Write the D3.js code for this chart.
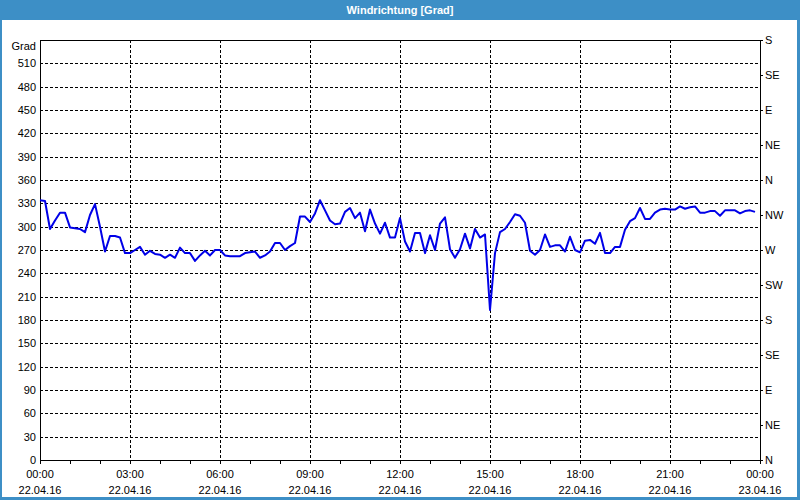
<!DOCTYPE html>
<html><head><meta charset="utf-8">
<script src="https://cdn.jsdelivr.net/npm/d3@7"></script>
<style>
html,body{margin:0;padding:0;background:#fff;}
svg{display:block;}
text{font-family:"Liberation Sans",Arial,sans-serif;font-size:11px;fill:#000;}
</style></head>
<body>
<svg id="chart" width="800" height="500"></svg>
<script>
const title = "Windrichtung [Grad]";
const unitLabel = "Grad";
const startTime = "2016-04-22T00:00";
const stepMinutes = 10;
// wind direction in degrees, one value every 10 minutes
const values = [
 334,333,297,308,318,318,299,298,297,293,315,329,300,268,288,288,286,266,266,270,
 274,264,269,265,264,260,264,260,273,266,266,256,263,269,263,270,270,263,262,262,
 262,266,267,268,260,263,268,279,279,270,275,279,313,313,306,317,334,321,308,303,
 304,319,324,311,318,294,322,304,291,305,286,286,311,281,268,292,292,266,289,270,
 304,312,271,260,271,291,272,297,286,290,193,266,293,297,306,316,314,305,269,264,
 270,290,274,276,276,268,287,270,267,282,283,278,292,266,266,274,274,296,307,311,
 324,310,310,318,322,323,322,322,326,323,325,326,318,318,320,320,314,321,321,321,
 317,320,321,319
];
const leftTicks = [0,30,60,90,120,150,180,210,240,270,300,330,360,390,420,450,480,510];
const rightTicks = [0,45,90,135,180,225,270,315,360,405,450,495,540];
const rightLabels = ["N","NE","E","SE","S","SW","W","NW","N","NE","E","SE","S"];
const yDomain = [0,540];
const xStart = "2016-04-22T00:00";
const xEnd = "2016-04-23T00:00";

const svg = d3.select("#chart");
const W = 800, H = 500;
const m = {left:40, right:760, top:40, bottom:460};
const parse = d3.timeParse("%Y-%m-%dT%H:%M");
const t0 = parse(startTime);
const data = values.map((v,i)=>({t:d3.timeMinute.offset(t0, i*stepMinutes), v}));

const x = d3.scaleTime().domain([parse(xStart), parse(xEnd)]).range([m.left, m.right]);
const y = d3.scaleLinear().domain(yDomain).range([m.bottom, m.top]);

// frame
svg.append("rect").attr("x",0).attr("y",0).attr("width",W).attr("height",H).attr("fill","#3d8fc6");
svg.append("rect").attr("x",2).attr("y",20).attr("width",795).attr("height",477).attr("fill","#ffffff");
svg.append("text").attr("x",W/2).attr("y",14).attr("text-anchor","middle")
  .style("font-weight","bold").style("fill","#fff").text(title);

// grid
const g = svg.append("g");
g.selectAll("line.h").data(leftTicks.filter(d=>d>0)).join("line")
  .attr("x1",m.left).attr("x2",m.right)
  .attr("y1",d=>Math.round(y(d))+0.5).attr("y2",d=>Math.round(y(d))+0.5)
  .attr("stroke","#000").attr("stroke-dasharray","3,2").attr("shape-rendering","crispEdges");
const gridTimes = d3.timeHour.every(3).range(parse(xStart), parse(xEnd)).slice(1);
g.selectAll("line.v").data(gridTimes).join("line")
  .attr("y1",m.top).attr("y2",m.bottom)
  .attr("x1",d=>Math.round(x(d))+0.5).attr("x2",d=>Math.round(x(d))+0.5)
  .attr("stroke","#000").attr("stroke-dasharray","3,2").attr("shape-rendering","crispEdges");

// left axis
const yl = svg.append("g").attr("transform",`translate(${m.left},0)`)
  .call(d3.axisLeft(y).tickValues(leftTicks).tickSize(0).tickPadding(4));
yl.select(".domain").remove();
yl.selectAll("text").style("font-size","11px").style("font-family","Liberation Sans, Arial, sans-serif");
svg.append("text").attr("x",36).attr("y",50).attr("text-anchor","end").text(unitLabel);

// right axis
const yr = svg.append("g").attr("transform",`translate(${m.right},0)`)
  .call(d3.axisRight(y).tickValues(rightTicks).tickSize(3).tickPadding(2)
    .tickFormat((d,i)=>rightLabels[i]));
yr.select(".domain").remove();
yr.selectAll("line").attr("stroke","#000");
yr.selectAll("text").style("font-size","11px").style("font-family","Liberation Sans, Arial, sans-serif");

// bottom axis ticks (hourly)
const xb = svg.append("g").attr("transform",`translate(0,${m.bottom})`)
  .call(d3.axisBottom(x).ticks(d3.timeHour.every(1)).tickSize(4).tickFormat(""));
xb.select(".domain").remove();
xb.selectAll("line").attr("stroke","#000");
const labelTimes = d3.timeHour.every(3).range(parse(xStart), d3.timeMinute.offset(parse(xEnd),1));
const fT = d3.timeFormat("%H:%M"), fD = d3.timeFormat("%d.%m.%y");
svg.append("g").selectAll("text.t").data(labelTimes).join("text")
  .attr("x",d=>x(d)).attr("y",478).attr("text-anchor","middle").text(d=>fT(d));
svg.append("g").selectAll("text.d").data(labelTimes).join("text")
  .attr("x",d=>x(d)).attr("y",494).attr("text-anchor","middle").text(d=>fD(d));

// plot frame
svg.append("rect").attr("x",m.left+0.5).attr("y",m.top+0.5)
  .attr("width",m.right-m.left).attr("height",m.bottom-m.top)
  .attr("fill","none").attr("stroke","#000").attr("shape-rendering","crispEdges");

// line
const line = d3.line().x(d=>x(d.t)).y(d=>y(d.v));
svg.append("path").datum(data).attr("d",line).attr("fill","none")
  .attr("stroke","#0000e8").attr("stroke-width",2).attr("stroke-linejoin","round");
</script>
</body></html>
